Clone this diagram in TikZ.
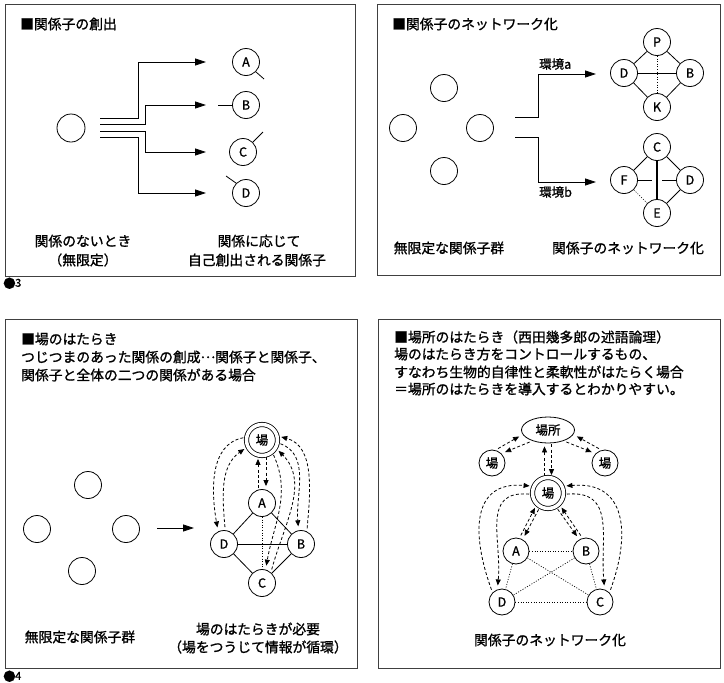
\documentclass[tikz,border=0pt]{standalone}
\usepackage{fontspec}
\newfontfamily\jp{Noto Sans CJK JP}[RawFeature={embolden=1.2}]
\usetikzlibrary{arrows.meta,shapes.geometric}
\begin{document}
\begin{tikzpicture}[x=1pt,y=1pt,
  box/.style={draw=black!75, line width=0.9pt},
  txt/.style={font=\jp\fontsize{13.8}{16}\selectfont, inner sep=0pt},
  ttl/.style={txt, anchor=west},
  small/.style={font=\jp\fontsize{12.5}{14}\selectfont, inner sep=0pt, anchor=west},
  conn/.style={line width=0.8pt},
  arr/.style={conn, -{Triangle[length=11pt,width=7pt]}},
  nd/.style={circle, draw, line width=0.8pt, minimum size=27pt, inner sep=0pt, font=\jp\fontsize{12.5}{13}\selectfont},
  dnd/.style={nd, double, double distance=3.5pt, minimum size=31pt},
  dotl/.style={line width=0.7pt, dash pattern=on 1pt off 1.6pt},
  darr/.style={line width=0.8pt, dash pattern=on 3pt off 2.2pt, -{Triangle[length=6pt,width=5pt]}, shorten >=4pt, shorten <=3pt},
  num/.style={font=\jp\fontsize{11}{12}\selectfont, inner sep=0pt, anchor=base west}
]
\useasboundingbox (0,0) rectangle (724,-683);

% ================= Panel 1 =================
\draw[box] (5,-4) rectangle (355,-276);
\node[ttl] (t1) at (20,-24) {■関係子の創出};
\node[nd, minimum size=28pt] (o1) at (71,-128) {};
\node[nd] (a1) at (246,-62) {A};
\node[nd] (b1) at (246,-105) {B};
\node[nd] (c1) at (243,-152) {C};
\node[nd] (d1) at (246,-193) {D};
\coordinate (s11) at (100,-118);
\coordinate (s12) at (100,-124);
\coordinate (s13) at (100,-131);
\coordinate (s14) at (100,-137);
\coordinate (e11) at (206,-62);
\coordinate (e12) at (206,-105);
\coordinate (e13) at (206,-152);
\coordinate (e14) at (206,-193);
\draw[arr] (s11) -- (138,-118) |- (e11);
\draw[arr] (s12) -- (145,-124) |- (e12);
\draw[arr] (s13) -- (145,-131) |- (e13);
\draw[arr] (s14) -- (138,-137) |- (e14);
\coordinate (ta) at (264,-79);
\coordinate (tb) at (218,-105);
\coordinate (tc) at (263,-132);
\coordinate (td) at (226,-176);
\draw[conn] (a1.-45) -- (ta);
\draw[conn] (tb) -- (b1.west);
\draw[conn] (c1.45) -- (tc);
\draw[conn] (d1.135) -- (td);
\node[txt] (l11) at (83,-241) {関係のないとき};
\node[txt] (l12) at (83,-260) {（無限定）};
\node[txt] (l13) at (259,-241) {関係に応じて};
\node[txt] (l14) at (257,-260) {自己創出される関係子};
\node[num] (n3) at (3,-288) {{\fontsize{12.5}{13}\selectfont ●}\kern-0.5pt\raisebox{1.2pt}{3}};

% ================= Panel 2 =================
\draw[box] (377,-4) rectangle (720,-275);
\node[ttl] (t2) at (392,-24) {■関係子のネットワーク化};
\node[nd] (q1) at (444,-88) {};
\node[nd] (q2) at (403,-128) {};
\node[nd] (q3) at (480,-128) {};
\node[nd] (q4) at (444,-171) {};
\coordinate (s21) at (515,-117);
\coordinate (s22) at (515,-137);
\coordinate (e21) at (596,-74);
\coordinate (e22) at (596,-182);
\draw[arr] (s21) -- (538,-117) |- (e21);
\draw[arr] (s22) -- (538,-137) |- (e22);
\node[small] (ea) at (539,-64) {環境a};
\node[small] (eb) at (539,-192) {環境b};
\node[nd] (pa) at (657,-42) {P};
\node[nd] (da) at (624,-73) {D};
\node[nd] (ba) at (690,-73) {B};
\node[nd] (ka) at (657,-107) {K};
\draw[conn] (pa) -- (da);
\draw[conn] (pa) -- (ba);
\draw[conn] (da) -- (ka);
\draw[conn] (ka) -- (ba);
\draw[conn] (da) -- (ba);
\draw[dotl] (pa) -- (ka);
\node[nd] (cb) at (657,-147) {C};
\node[nd] (fb) at (624,-180) {F};
\node[nd] (db) at (690,-180) {D};
\node[nd] (eb2) at (657,-213) {E};
\draw[conn] (cb) -- (fb);
\draw[conn] (cb) -- (db);
\draw[conn] (db) -- (eb2);
\draw[dotl] (fb) -- (eb2);
\draw[line width=1.1pt] (cb) -- (eb2);
\coordinate (g1) at (652,-180);
\coordinate (g2) at (662,-180);
\draw[conn] (fb) -- (g1);
\draw[conn] (g2) -- (db);
\node[txt] (l21) at (449,-248) {無限定な関係子群};
\node[txt] (l22) at (628,-248) {関係子のネットワーク化};

% ================= Panel 3 =================
\draw[box] (5,-319) rectangle (357,-668);
\node[ttl] (t31) at (21,-339) {■場のはたらき};
\node[ttl] (t32) at (21,-357) {つじつまのあった関係の創成\raisebox{0.3em}{…}関係子と関係子、};
\node[ttl] (t33) at (21,-375) {関係子と全体の二つの関係がある場合};
\node[nd] (r1) at (88,-485) {};
\node[nd] (r2) at (37,-529) {};
\node[nd] (r3) at (126,-529) {};
\node[nd] (r4) at (82,-571) {};
\coordinate (ar1) at (157,-528);
\coordinate (ar2) at (194,-528);
\draw[arr] (ar1) -- (ar2);
\node[dnd] (F3) at (262,-440) {場};
\node[nd] (A3) at (262,-503) {A};
\node[nd] (D3) at (224,-544) {D};
\node[nd] (B3) at (301,-544) {B};
\node[nd] (C3) at (262,-583) {C};
\draw[conn] (A3) -- (D3);
\draw[conn] (A3) -- (B3);
\draw[conn] (D3) -- (C3);
\draw[conn] (B3) -- (C3);
\draw[conn] (D3) -- (B3);
\draw[dotl] (A3) -- (C3);
\draw[darr, shorten >=3pt, shorten <=1pt] ([xshift=4pt]F3.south) -- ([xshift=4pt]A3.north);
\draw[darr, shorten >=3pt, shorten <=1pt] ([xshift=-4pt]A3.north) -- ([xshift=-4pt]F3.south);
\draw[darr] (F3.170) to[out=190,in=100] (D3.115);
\draw[darr] (D3.85) to[out=95,in=215] (F3.205);
\draw[darr] (B3.65) to[out=85,in=-15] (F3.15);
\draw[darr] (F3.-10) to[out=-20,in=95] (B3.100);
\draw[darr] (C3.50) to[out=75,in=-45] (F3.-30);
\draw[darr] (F3.-50) to[out=-65,in=80] (C3.75);
\node[txt] (l31) at (80,-637) {無限定な関係子群};
\node[txt] (l32) at (258,-629) {場のはたらきが必要};
\node[txt] (l33) at (258,-647) {（場をつうじて情報が循環）};
\node[num] (n4) at (3,-681) {{\fontsize{12.5}{13}\selectfont ●}\kern-0.5pt\raisebox{1.2pt}{4}};

% ================= Panel 4 =================
\draw[box] (378,-319) rectangle (720,-668);
\node[ttl] (t41) at (394,-337) {■場所のはたらき（西田幾多郎の述語論理）};
\node[ttl] (t42) at (394,-354) {場のはたらき方をコントロールするもの、};
\node[ttl] (t43) at (394,-372) {すなわち生物的自律性と柔軟性がはたらく場合};
\node[ttl] (t44) at (394,-389) {＝場所のはたらきを導入するとわかりやすい。};
\node[ellipse, draw, line width=0.8pt, minimum width=53pt, minimum height=26pt, inner sep=0pt, font=\jp\fontsize{12.5}{13}\selectfont] (Pl) at (548,-430) {場所};
\node[nd, minimum size=26pt] (Lb) at (492,-463) {場};
\node[nd, minimum size=26pt] (Rb) at (605,-463) {場};
\node[dnd] (F4) at (548,-493) {場};
\node[nd, minimum size=26pt] (A4) at (516,-551) {A};
\node[nd, minimum size=26pt] (B4) at (586,-551) {B};
\node[nd, minimum size=26pt] (D4) at (502,-602) {D};
\node[nd, minimum size=26pt] (C4) at (600,-602) {C};
\draw[dotl] (A4) -- (B4);
\draw[dotl] (A4) -- (D4);
\draw[dotl] (A4) -- (C4);
\draw[dotl] (B4) -- (D4);
\draw[dotl] (B4) -- (C4);
\draw[dotl] (D4) -- (C4);
\draw[darr] (Lb.75) -- (Pl.190);
\draw[darr] (Pl.215) -- (Lb.45);
\draw[darr] (Rb.105) -- (Pl.-10);
\draw[darr] (Pl.-35) -- (Rb.135);
\draw[darr, shorten >=3pt, shorten <=1pt] ([xshift=-3.5pt]F4.north) -- ([xshift=-3.5pt]Pl.south);
\draw[darr, shorten >=2pt, shorten <=1pt] ([xshift=3.5pt]Pl.south) -- ([xshift=3.5pt]F4.north);
\draw[darr] (A4.75) -- (F4.225);
\draw[darr] (F4.240) -- (A4.60);
\draw[darr] (B4.105) -- (F4.-45);
\draw[darr] (F4.-60) -- (B4.120);
\draw[darr] (D4.135) to[out=110,in=175,looseness=1.4] (F4.155);
\draw[darr] (F4.185) to[out=175,in=85,looseness=1.3] (D4.110);
\draw[darr] (C4.45) to[out=70,in=5,looseness=1.4] (F4.25);
\draw[darr] (F4.-5) to[out=5,in=95,looseness=1.3] (C4.70);
\node[txt] (l41) at (550,-640) {関係子のネットワーク化};
\end{tikzpicture}
\end{document}
